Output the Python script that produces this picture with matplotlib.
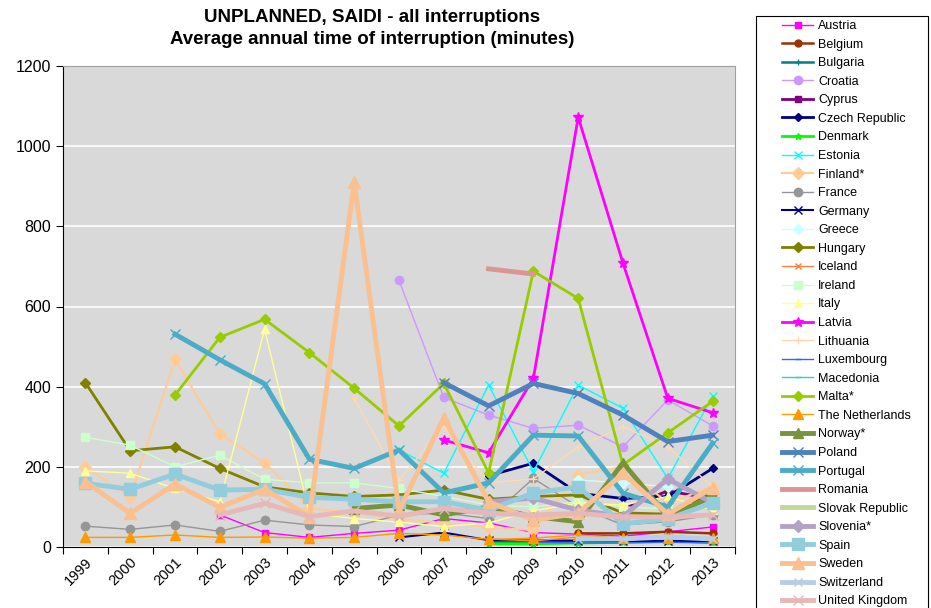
import numpy as np
import matplotlib
matplotlib.use("Agg")
import matplotlib.pyplot as plt
from matplotlib.patches import Rectangle

nan = np.nan
years = [str(y) for y in range(1999, 2014)]

# SAIDI, unplanned, minutes per year
austria = [nan, nan, nan, 80, 36, 24, 34, 42, 71, 60, 36, 32, 27, 38, 50]
belgium = [nan] * 11 + [34, 34, 38, 34]
bulgaria = [nan] * 9 + [12, 10, 12, 15, 14, 12]
croatia = [nan] * 7 + [665, 373, 329, 296, 304, 250, 367, 302]
cyprus = [nan] * 12 + [95, 140, 120]
czech = [nan] * 9 + [178, 209, 134, 121, 126, 196]
denmark = [nan] * 9 + [8, 8, 10, 12, 15, 12]
estonia = [nan] * 7 + [242, 184, 404, 188, 404, 346, 171, 377]
finland = [200, 125, 468, 282, 210, 97, 85, 70, 60, 50, 42, 180, 200, 110, 150]
france = [52, 44, 55, 39, 67, 55, 51, 80, 85, 71, 171, 100, 55, 63, 80]
germany = [nan] * 7 + [24, 36, 17, 16, 16, 15, 15, 15]
greece = [nan] * 11 + [167, 160, 150, nan]
hungary = [410, 240, 250, 196, 150, 135, 126, 130, 142, 119, 126, 130, 85, 82, 135]
iceland = [nan] * 9 + [20, 15, 25, 18, 30, 20]
ireland = [274, 254, 200, 229, 169, 160, 160, 146, 126, 105, 100, 113, 100, 95, 100]
italy = [190, 184, 146, 113, 543, 84, 71, 62, 51, 60, 90, 110, 105, 126, 92]
latvia = [nan] * 8 + [267, 235, 421, 1072, 708, 371, 335]
lithuania = [nan] * 6 + [371, 167, 300, 160, 170, 250, 300, 250, 150]
luxembourg = [nan] * 10 + [12, 10, 10, 12, 10]
macedonia = [nan] * 11 + [20, 18, 22, 20]
malta = [nan, nan, 379, 523, 568, 485, 396, 302, 408, 185, 688, 620, 205, 285, 363]
netherlands = [24, 24, 30, 24, 25, 22, 24, 34, 30, 19, 22, 30, 22, 22, 22]
norway = [nan] * 6 + [96, 105, 80, 100, 76, 63, 210, 76, 126]
poland = [nan] * 8 + [410, 352, 408, 383, 329, 263, 279]
portugal = [nan, nan, 531, 467, 407, 219, 196, 242, 135, 160, 279, 277, 134, 100, 259]
romania = [nan] * 9 + [694, 681, nan, nan, nan, nan]
slovakia = [nan] * 15
slovenia = [nan] * 9 + [113, 122, 92, 76, 170, 110]
spain = [159, 144, 182, 142, 144, 124, 119, 113, 113, 92, 135, 150, 58, 70, 110]
sweden = [163, 84, 157, 99, 144, 76, 910, 91, 322, 113, 67, 84, 184, 82, 148]
switzerland = [nan] * 11 + [20, 20, 25, 20]
uk = [nan, nan, nan, 80, 109, 76, 90, 77, 96, 84, 80, 84, 75, 75, 80]

# name, values, colour, marker, line width, marker size
series = [
    ("Austria", austria, "#FF00FF", "s", 1.0, 5),
    ("Belgium", belgium, "#993300", "o", 1.8, 5),
    ("Bulgaria", bulgaria, "#008080", "+", 1.8, 5),
    ("Croatia", croatia, "#CC99FF", "o", 1.0, 6),
    ("Cyprus", cyprus, "#800080", "s", 2.0, 5),
    ("Czech Republic", czech, "#000080", "D", 2.0, 4),
    ("Denmark", denmark, "#00FF00", "*", 2.0, 5),
    ("Estonia", estonia, "#00FFFF", "x", 1.0, 6),
    ("Finland*", finland, "#FFCC99", "D", 1.5, 6),
    ("France", france, "#969696", "o", 1.0, 6),
    ("Germany", germany, "#000080", "x", 1.5, 6),
    ("Greece", greece, "#CCFFFF", "D", 1.0, 5),
    ("Hungary", hungary, "#808000", "D", 2.0, 5),
    ("Iceland", iceland, "#FF8040", "x", 1.0, 5),
    ("Ireland", ireland, "#CCFFCC", "s", 1.0, 6),
    ("Italy", italy, "#FFFF99", "^", 1.0, 6),
    ("Latvia", latvia, "#FF00FF", "*", 2.0, 7),
    ("Lithuania", lithuania, "#FFD8B0", "+", 1.0, 6),
    ("Luxembourg", luxembourg, "#3366FF", "_", 1.0, 5),
    ("Macedonia", macedonia, "#33CCCC", "_", 1.0, 5),
    ("Malta*", malta, "#99CC00", "D", 2.0, 5),
    ("The Netherlands", netherlands, "#FF9900", "^", 1.0, 7),
    ("Norway*", norway, "#77933C", "^", 3.5, 7),
    ("Poland", poland, "#4F81BD", "x", 3.5, 7),
    ("Portugal", portugal, "#4BACC6", "x", 3.5, 7),
    ("Romania", romania, "#D99694", None, 3.5, 0),
    ("Slovak Republic", slovakia, "#C3D69B", None, 3.5, 0),
    ("Slovenia*", slovenia, "#B3A2C7", "D", 3.5, 6),
    ("Spain", spain, "#93CDDD", "s", 3.5, 8),
    ("Sweden", sweden, "#FAC090", "^", 3.5, 9),
    ("Switzerland", switzerland, "#B9CDE5", "x", 3.5, 6),
    ("United Kingdom", uk, "#E6B9B8", "x", 3.5, 7),
]

plt.rcParams["font.family"] = ["Liberation Sans", "DejaVu Sans"]

fig = plt.figure(figsize=(9.31, 6.08), dpi=100)
ax = fig.add_axes([63 / 931, 61 / 608, 672 / 931, 481 / 608])
ax.set_facecolor("#D9D9D9")

x = np.arange(len(years))
for name, vals, color, marker, lw, ms in series:
    ax.plot(x, vals, color=color, lw=lw, marker=marker, markersize=ms,
            markeredgecolor=color, markerfacecolor=color, label=name)

ax.set_xlim(-0.5, len(years) - 0.5)
ax.set_ylim(0, 1200)
ax.set_yticks(np.arange(0, 1201, 200))
ax.yaxis.grid(True, color="white", lw=1.2)
ax.set_axisbelow(True)

# category axis: tick marks between categories, labels at centres
ax.set_xticks(np.arange(-0.5, len(years), 1.0))
ax.set_xticklabels([])
ax.set_xticks(x, minor=True)
ax.set_xticklabels(years, minor=True, rotation=45, ha="right",
                   rotation_mode="anchor", fontsize=10.5)
ax.tick_params(axis="x", which="minor", length=0, pad=6)
ax.tick_params(axis="x", which="major", length=5, direction="out")
ax.tick_params(axis="y", labelsize=11.5, length=5, direction="out")

for side in ["top", "right"]:
    ax.spines[side].set_color("#A0A0A0")
for side in ["left", "bottom"]:
    ax.spines[side].set_color("black")

fig.text(372 / 931, 1 - 17 / 608, "UNPLANNED, SAIDI - all interruptions",
         ha="center", va="center", fontsize=13.5, fontweight="bold")
fig.text(372 / 931, 1 - 39 / 608, "Average annual time of interruption (minutes)",
         ha="center", va="center", fontsize=13.5, fontweight="bold")

# legend frame runs past the bottom edge
fig.patches.append(Rectangle((756 / 931, -0.05), 172 / 931, 1.05 - 16 / 608,
                             transform=fig.transFigure, fill=False,
                             edgecolor="black", lw=0.8))
handles, labels = ax.get_legend_handles_labels()
fig.legend(handles, labels, loc="upper left",
           bbox_to_anchor=(782 / 931, 1 - 20 / 608), frameon=False,
           fontsize=9, handlelength=2.5, handletextpad=0.4,
           labelspacing=0.525, borderpad=0, borderaxespad=0)

fig.savefig("out.png", dpi=100)
